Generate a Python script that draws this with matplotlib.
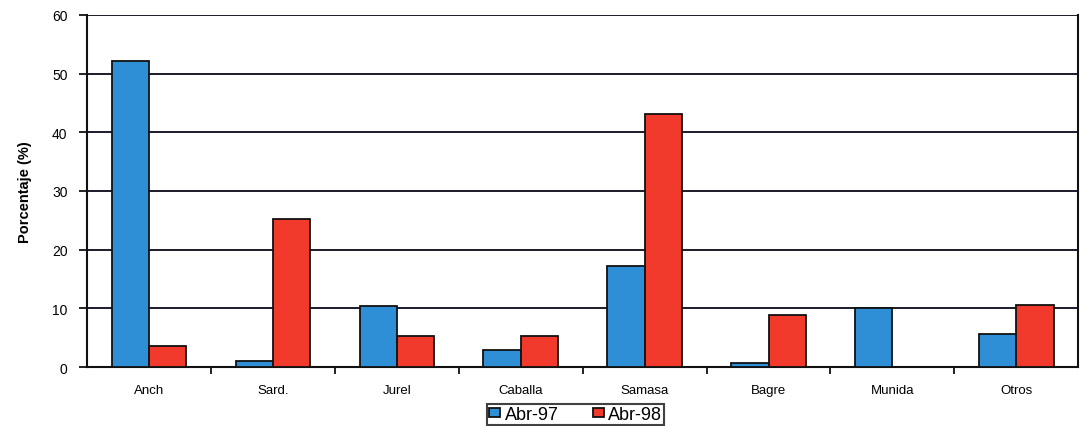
import matplotlib.pyplot as plt
import numpy as np

plt.rcParams['font.family'] = ['Liberation Sans', 'DejaVu Sans']

categorias = ["Anch", "Sard.", "Jurel", "Caballa", "Samasa", "Bagre", "Munida", "Otros"]
abr_97 = [52.1, 1.0, 10.4, 2.9, 17.2, 0.7, 10.1, 5.6]
abr_98 = [3.6, 25.2, 5.3, 5.3, 43.1, 8.9, 0.0, 10.6]

fig = plt.figure(figsize=(10.87, 4.27), dpi=100)
ax = fig.add_axes([0.080, 0.138, 0.912, 0.825])

x = np.arange(len(categorias))
ancho = 0.3
ax.bar(x - ancho / 2, abr_97, ancho, color="#2f8fd6", edgecolor="#111111",
       linewidth=1.3, label="Abr-97", zorder=3)
ax.bar(x + ancho / 2, abr_98, ancho, color="#f23a2c", edgecolor="#111111",
       linewidth=1.3, label="Abr-98", zorder=3)

ax.set_ylim(0, 60)
ax.set_xlim(-0.5, len(categorias) - 0.5)
ax.set_yticks(range(0, 61, 10))
ax.yaxis.grid(True, color="#1a1a2a", linewidth=1.4, zorder=1)
ax.set_axisbelow(True)

ax.set_xticks(x)
ax.set_xticklabels(categorias, fontsize=9.5)
ax.set_xticks(np.arange(0.5, len(categorias) - 0.5, 1), minor=True)
ax.tick_params(axis="x", which="major", length=0, pad=12)
ax.tick_params(axis="x", which="minor", length=5, width=1.3, direction="out", color="#111111")
ax.tick_params(axis="y", length=6, width=1.3, direction="out", labelsize=10,
               color="#111111", pad=8)

ax.set_ylabel("Porcentaje (%)", fontsize=10.5, fontweight="bold", labelpad=14)

for lado in ["left", "right", "bottom"]:
    ax.spines[lado].set_linewidth(1.5)
    ax.spines[lado].set_color("#111111")
ax.spines["top"].set_visible(False)

leg = ax.legend(loc="upper center", bbox_to_anchor=(0.493, -0.105), ncol=2, fontsize=13,
                frameon=True, fancybox=False, edgecolor="#111111", handlelength=0.6,
                handleheight=0.4, columnspacing=1.9, handletextpad=0.25, borderpad=0.1,
                borderaxespad=0)
leg.get_frame().set_linewidth(1.5)

fig.savefig("out.png", dpi=100)
